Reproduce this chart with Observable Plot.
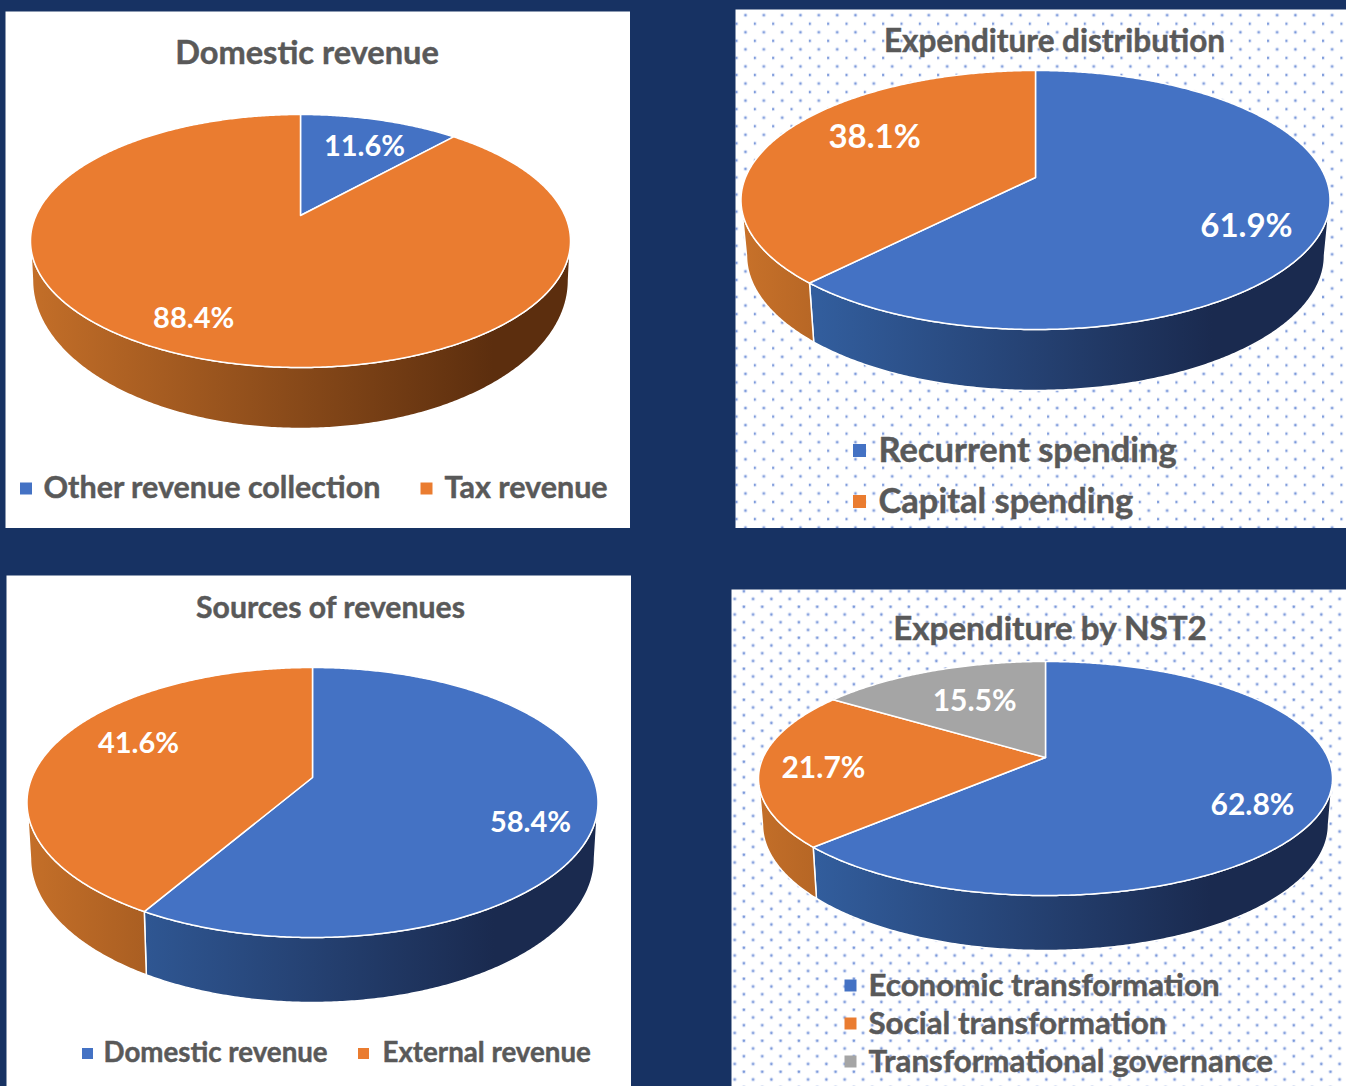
<!DOCTYPE html>
<html>
<head>
<meta charset="utf-8">
<script src="https://cdn.jsdelivr.net/npm/d3@7"></script>
<script src="https://cdn.jsdelivr.net/npm/@observablehq/plot@0.6"></script>
<style>
html,body{margin:0;padding:0;background:#173263;}
#page{position:relative;width:1346px;height:1086px;overflow:hidden;background:#173263;}
#page>svg,#page>figure{position:absolute;margin:0;}
</style>
</head>
<body>
<div id="page"></div>
<script>
// ---- data ----
const domesticNames = ["Other revenue collection", "Tax revenue"];
const domesticValues = [11.6, 88.4];
const spendingNames = ["Recurrent spending", "Capital spending"];
const spendingValues = [61.9, 38.1];
const sourceNames = ["Domestic revenue", "External revenue"];
const sourceValues = [58.4, 41.6];
const nstNames = ["Economic transformation", "Social transformation", "Transformational governance"];
const nstValues = [62.8, 21.7, 15.5];

const palette = ["#4472c4", "#ea7c30", "#a5a5a5"];
const textGrey = "#595959";
const font = "Lato, 'Open Sans', sans-serif";

// ---- layout only ----
const panels = [
  {id:"a", title:"Domestic revenue", names:domesticNames, values:domesticValues, dotted:false,
   box:[5,11,625,517], apex:[300,215], top:114, bottom:367, xmin:30, xmax:570, base:{rx:268, cy:280, ry:148},
   titleAt:[306.5,53,32.6], labelShift:[2.2,4.6], labelR:[.697,.802], labelSize:29,
   legendSize:30.5, swatch:12, legend:[[25.5,43,488],[426,444,488]]},
  {id:"b", title:"Expenditure distribution", names:spendingNames, values:spendingValues, dotted:[18.33,17.08,10,5.7],
   box:[735,9,611,519], apex:[1035,177], top:70, bottom:329, xmin:740, xmax:1329, base:{rx:289, cy:255, ry:135},
   titleAt:[1054,41,31.5], labelShift:[6.8,8.4], labelR:[.773,.677], labelSize:33,
   legendSize:34.5, swatch:13, legend:[[859,878,450],[859,878,501]]},
  {id:"c", title:"Sources of revenues", names:sourceNames, values:sourceValues, dotted:false,
   box:[6,575,625,511], apex:[312,777], top:667, bottom:937, xmin:26, xmax:597, base:{rx:282, cy:858, ry:144},
   titleAt:[330,608,30.2], labelShift:[8.8,7.7], labelR:[.799,.707], labelSize:29,
   legendSize:27.7, swatch:11, legend:[[87,103,1053],[363,382,1053]]},
  {id:"d", title:"Expenditure by NST2", names:nstNames, values:nstValues, dotted:[18.33,15.5,12.4,1.7],
   box:[731,589,615,497], apex:[1045,757], top:661, bottom:895, xmin:758, xmax:1332, base:{rx:283, cy:824, ry:126},
   titleAt:[1049.5,629,33.2], labelShift:[7,-2.2,1], labelR:[.787,.779,.609], labelSize:30,
   legendSize:31.3, swatch:12, legend:[[850,868,985],[850,868,1023],[850,868,1061]]}
];

const sideStops = [
  {start:"#c9722a", end:"#5c2e0e"},
  {start:"#3768ad", end:"#1a2a4f"},
];
const svgNS = "http://www.w3.org/2000/svg";
const rad = d => d * Math.PI / 180;

function drawPanel(P) {
  const [bx, by, W, H] = P.box;
  const cy = (P.top + P.bottom) / 2, cx = (P.xmin + P.xmax) / 2;
  const rx = (P.xmax - P.xmin) / 2, ry = (P.bottom - P.top) / 2;
  const up = P.apex[1] - P.top, down = P.bottom - P.apex[1];
  // perspective of a tilted disc: the centre of the disc is not the centre of its ellipse
  const p = (down / up - 1) / (down / up + 1);
  const b = up * (1 + p);
  const a = rx * Math.sqrt(1 - p * p);
  const project = (deg, r = 1) => {
    const u = r * Math.sin(rad(deg)), v = r * Math.cos(rad(deg)), w = 1 + p * v;
    return [P.apex[0] + a * u / w, P.apex[1] - b * v / w];
  };
  const lower = ([x, y]) => {
    const nx = (x - cx) / rx, ny = (y - cy) / ry;
    return [cx + nx * P.base.rx, P.base.cy + ny * P.base.ry];
  };
  const total = d3.sum(P.values);
  let acc = 0;
  const slices = P.values.map((v, i) => {
    const start = acc / total * 360; acc += v;
    return {name: P.names[i], value: v, i, start, end: acc / total * 360};
  });
  const arc = (s, e) => {
    const n = Math.max(2, Math.ceil((e - s) / 0.5));
    return d3.range(n + 1).map(k => s + (e - s) * k / n);
  };
  const faces = slices.flatMap(s => [
    {name: s.name, x: P.apex[0], y: P.apex[1]},
    ...arc(s.start, s.end).map(t => { const q = project(t); return {name: s.name, x: q[0], y: q[1]}; })
  ]);
  // the rim is visible where it lies in the near half of the ellipse
  const near0 = 180 - Math.acos(p) * 180 / Math.PI, near1 = 360 - near0;
  const sideMarks = slices.flatMap(s => {
    const s0 = Math.max(s.start, near0), s1 = Math.min(s.end, near1);
    if (s1 <= s0) return [];
    const ts = arc(s0, s1);
    const pts = [...ts.map(t => project(t)), ...ts.slice().reverse().map(t => lower(project(t)))];
    return [Plot.line(pts.map(q => ({x: q[0], y: q[1]})), {
      x: "x", y: "y", curve: "linear-closed",
      fill: `url(#side-${P.id}-${s.i === 0 ? 1 : 0})`,
      stroke: "white", strokeWidth: 1.5, strokeLinejoin: "round"
    })];
  });
  const labels = slices.map((s, i) => {
    const q = project((s.start + s.end) / 2 + P.labelShift[i], P.labelR[i]);
    return {text: s.value.toFixed(1) + "%", x: q[0], y: q[1]};
  });
  const legendItems = P.names.map((n, i) => ({name: n, sx: P.legend[i][0], tx: P.legend[i][1], y: P.legend[i][2]}));

  const defsMark = () => {
    const defs = document.createElementNS(svgNS, "defs");
    const g = document.createElementNS(svgNS, "g");
    g.appendChild(defs);
    // index 0 orange rim, index 1 blue rim
    sideStops.forEach((stops, k) => {
      const lg = document.createElementNS(svgNS, "linearGradient");
      lg.setAttribute("id", `side-${P.id}-${k}`);
      lg.setAttribute("gradientUnits", "userSpaceOnUse");
      lg.setAttribute("x1", 0); lg.setAttribute("x2", W * 0.78);
      lg.setAttribute("y1", 0); lg.setAttribute("y2", 0);
      [[0, stops.start], [1, stops.end]].forEach(([o, c]) => {
        const st = document.createElementNS(svgNS, "stop");
        st.setAttribute("offset", o); st.setAttribute("stop-color", c);
        lg.appendChild(st);
      });
      defs.appendChild(lg);
    });
    if (P.dotted) {
      const [tw, th, ox, oy] = P.dotted;
      const pat = document.createElementNS(svgNS, "pattern");
      pat.setAttribute("id", `dots-${P.id}`);
      pat.setAttribute("patternUnits", "userSpaceOnUse");
      pat.setAttribute("width", tw); pat.setAttribute("height", th);
      const bg = document.createElementNS(svgNS, "rect");
      bg.setAttribute("width", tw); bg.setAttribute("height", th); bg.setAttribute("fill", "white");
      pat.appendChild(bg);
      [[ox, oy], [(ox + tw / 2) % tw, (oy + th / 2) % th]].forEach(([dx, dy]) => {
        [[2.1, 0.22], [1.15, 0.9]].forEach(([r, o]) => {
          const c = document.createElementNS(svgNS, "circle");
          c.setAttribute("cx", dx); c.setAttribute("cy", dy); c.setAttribute("r", r);
          c.setAttribute("fill", "#6f8fd8"); c.setAttribute("fill-opacity", o);
          pat.appendChild(c);
        });
      });
      defs.appendChild(pat);
    }
    return g;
  };

  const heavy = {stroke: textGrey, strokeWidth: 0.45};
  const chart = Plot.plot({
    width: W, height: H, margin: 0,
    style: {background: "transparent", fontFamily: font},
    x: {domain: [bx, bx + W], range: [0, W], axis: null},
    y: {domain: [by, by + H], range: [0, H], axis: null},
    color: {domain: P.names, range: palette.slice(0, P.names.length)},
    marks: [
      defsMark,
      Plot.frame({fill: P.dotted ? `url(#dots-${P.id})` : "white", stroke: null}),
      ...sideMarks,
      Plot.line(faces, {x: "x", y: "y", z: "name", fill: "name", curve: "linear-closed",
        stroke: "white", strokeWidth: 1.5, strokeLinejoin: "round"}),
      Plot.text(labels, {x: "x", y: "y", text: "text", fill: "white", fontWeight: 700,
        fontSize: P.labelSize, fontFamily: font, lineAnchor: "middle", textAnchor: "middle"}),
      Plot.text([P.title], {x: () => P.titleAt[0], y: () => P.titleAt[1], text: d => d, fill: textGrey, ...heavy,
        fontWeight: 700, fontSize: P.titleAt[2], fontFamily: font, lineAnchor: "middle", textAnchor: "middle"}),
      Plot.dot(legendItems, {x: "sx", y: "y", fill: "name", symbol: "square", r: P.swatch / Math.sqrt(Math.PI)}),
      Plot.text(legendItems, {x: "tx", y: "y", text: "name", fill: textGrey, ...heavy, fontWeight: 700,
        fontSize: P.legendSize, fontFamily: font, lineAnchor: "middle", textAnchor: "start"})
    ]
  });
  chart.style.left = bx + "px";
  chart.style.top = by + "px";
  chart.style.position = "absolute";
  document.getElementById("page").appendChild(chart);
}
panels.forEach(drawPanel);
</script>
</body>
</html>
